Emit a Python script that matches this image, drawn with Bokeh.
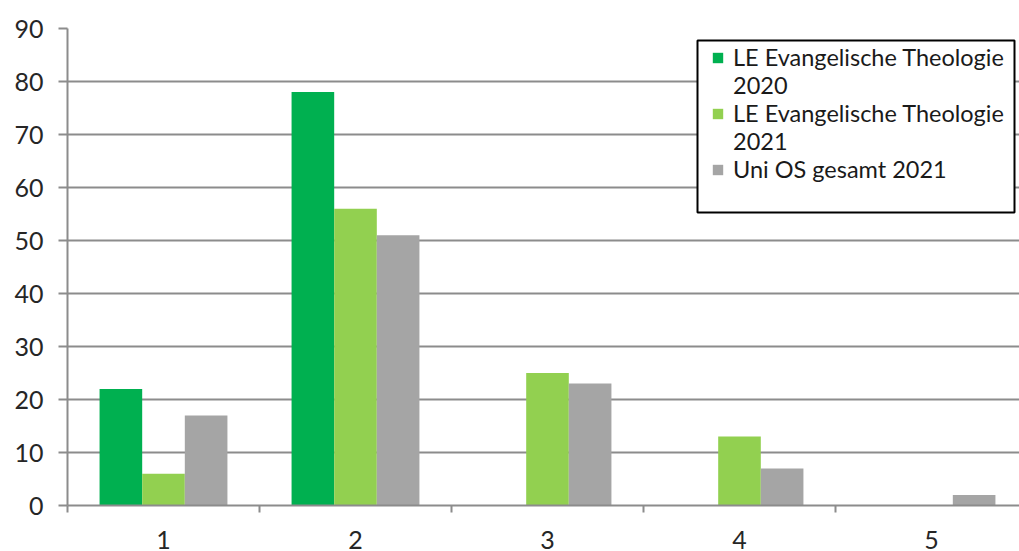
from bokeh.plotting import figure
from bokeh.models import ColumnDataSource, Range1d, FixedTicker, Legend, LegendItem, BoxAnnotation
from bokeh.transform import dodge
from bokeh.embed import file_html
from bokeh.resources import INLINE

# ---- data ----
categories = [1, 2, 3, 4, 5]
le_2020 = [22, 78, 0, 0, 0]
le_2021 = [6, 56, 25, 13, 0]
uni_2021 = [17, 51, 23, 7, 2]
y_ticks = [0, 10, 20, 30, 40, 50, 60, 70, 80, 90]
series_names = ["LE Evangelische Theologie\n2020",
                "LE Evangelische Theologie\n2021",
                "Uni OS gesamt 2021"]
colors = ["#00B050", "#92D050", "#A5A5A5"]

FONT = "Lato"
GRID = "#8C8C8C"
TEXT = "#262626"

src = ColumnDataSource(dict(x=categories, s1=le_2020, s2=le_2021, s3=uni_2021))

p = figure(width=1019, height=551, output_backend="svg", toolbar_location=None,
           x_range=Range1d(0.5, 0.5 + 952 / 192), y_range=Range1d(0, 90),
           min_border_left=67, min_border_top=28, min_border_right=0, min_border_bottom=0)
p.outline_line_color = None
p.background_fill_color = "white"
p.border_fill_color = "white"

bw = 0.222
r1 = p.vbar(x=dodge("x", -bw, range=p.x_range), top="s1", width=bw, source=src,
            fill_color=colors[0], line_color=None)
r2 = p.vbar(x=dodge("x", 0, range=p.x_range), top="s2", width=bw, source=src,
            fill_color=colors[1], line_color=None)
r3 = p.vbar(x=dodge("x", bw, range=p.x_range), top="s3", width=bw, source=src,
            fill_color=colors[2], line_color=None)
blank = p.vbar(x=[], top=[], width=bw, fill_alpha=0, line_alpha=0)

# axes
p.yaxis.ticker = FixedTicker(ticks=y_ticks)
p.xaxis.ticker = FixedTicker(ticks=categories,
                             minor_ticks=[c - 0.5 for c in categories] + [categories[-1] + 0.5])
for ax in (p.xaxis[0], p.yaxis[0]):
    ax.axis_line_color = GRID
    ax.axis_line_width = 2
    ax.major_tick_line_color = GRID
    ax.major_tick_line_width = 2
    ax.minor_tick_line_color = GRID
    ax.minor_tick_line_width = 2
    ax.major_label_text_font = FONT
    ax.major_label_text_font_size = "25px"
    ax.major_label_text_color = TEXT
p.yaxis.major_tick_in = 0
p.yaxis.major_tick_out = 9
p.yaxis.minor_tick_in = 0
p.yaxis.minor_tick_out = 0
p.yaxis.major_label_standoff = 15
p.xaxis.major_tick_in = 0
p.xaxis.major_tick_out = 0
p.xaxis.minor_tick_in = 0
p.xaxis.minor_tick_out = 7
p.xaxis.major_label_standoff = 18

p.xgrid.grid_line_color = None
p.ygrid.grid_line_color = GRID
p.ygrid.grid_line_width = 2

# legend frame (drawn in canvas pixels)
frame = BoxAnnotation(left=697, right=1014, top=40, bottom=212,
                      left_units="canvas", right_units="canvas",
                      top_units="canvas", bottom_units="canvas",
                      fill_color="white", fill_alpha=1.0,
                      line_color="black", line_width=2, line_alpha=1.0)
p.add_layout(frame)

# legend (each wrapped line as its own row)
items = []
for r, name in zip([r1, r2, r3], series_names):
    lines = name.split("\n")
    items.append(LegendItem(label=lines[0], renderers=[r]))
    for extra in lines[1:]:
        items.append(LegendItem(label=extra, renderers=[blank]))

legend = Legend(items=items, location=(644, 322), padding=0, spacing=0,
                glyph_width=13, glyph_height=13, label_standoff=9, label_height=20,
                label_text_font=FONT, label_text_font_size="23.5px", label_text_color="#1A1A1A",
                border_line_alpha=0, background_fill_alpha=0, margin=0)
p.add_layout(legend, "center")

open("out.html", "w").write(file_html(p, INLINE))
